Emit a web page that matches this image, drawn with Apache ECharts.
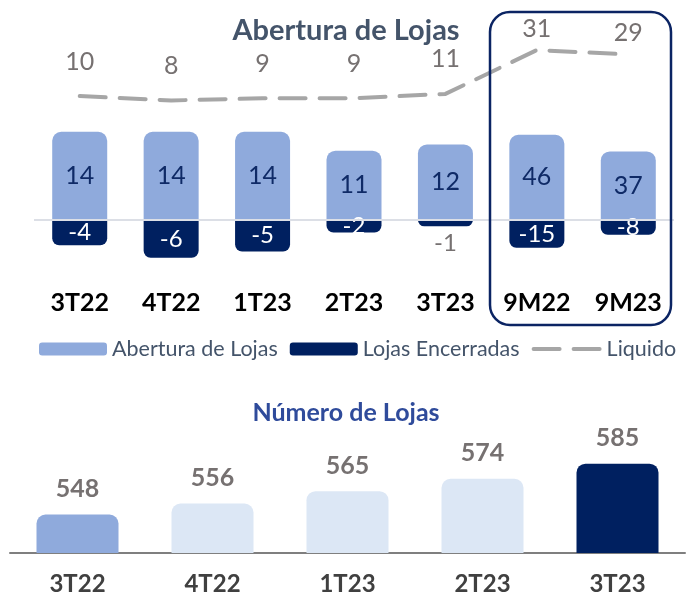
<!DOCTYPE html>
<html>
<head>
<meta charset="utf-8">
<script src="https://cdn.jsdelivr.net/npm/echarts@6/dist/echarts.min.js"></script>
<style>
  html, body { margin: 0; padding: 0; background: #fff; }
  #chart { width: 692px; height: 602px; }
</style>
</head>
<body>
<div id="chart"></div>
<script>
// Abertura de Lojas (top chart)
const periods = ['3T22', '4T22', '1T23', '2T23', '3T23', '9M22', '9M23']
const aberturaTri = [14, 14, 14, 11, 12]
const encerradasTri = [-4, -6, -5, -2, -1]
const abertura9M = [46, 37]
const encerradas9M = [-15, -8]
const liquido = [10, 8, 9, 9, 11, 31, 29]

// Número de Lojas (bottom chart)
const lojasCats = ['3T22', '4T22', '1T23', '2T23', '3T23']
const numeroLojas = [548, 556, 565, 574, 585]

const FONT = 'Lato, "Liberation Sans", sans-serif'
const COLORS = {
  open: '#8faadc',
  closed: '#002060',
  line: '#a6a6a6',
  label: '#767171',
  light: '#dce7f5'
}
const lojasColors = [COLORS.open, COLORS.light, COLORS.light, COLORS.light, COLORS.closed]

const empty = n => new Array(n).fill('-')
const nTri = aberturaTri.length
const n9M = abertura9M.length

// tiny closures get their label below the bar, in grey
const negLabel = v => Math.abs(v) < 2
  ? { value: v, label: { position: 'bottom', color: COLORS.label } }
  : v

const chart = echarts.init(document.getElementById('chart'))

const option = {
  animation: false,
  textStyle: { fontFamily: FONT },
  title: [
    {
      text: 'Abertura de Lojas',
      left: 'center',
      top: 11,
      textStyle: { fontSize: 29, fontWeight: 'bold', color: '#44546a', fontFamily: FONT }
    },
    {
      text: 'Número de Lojas',
      left: 'center',
      top: 395,
      textStyle: { fontSize: 25, fontWeight: 'bold', color: '#2f4b9b', fontFamily: FONT }
    }
  ],
  legend: {
    left: 34,
    right: 0,
    top: 333,
    itemWidth: 68,
    itemHeight: 13,
    itemGap: 12,
    textStyle: { fontSize: 21.5, color: '#44546a', fontFamily: FONT },
    data: [
      { name: 'Abertura de Lojas', icon: 'roundRect' },
      { name: 'Lojas Encerradas', icon: 'roundRect' },
      { name: 'Liquido', lineStyle: { width: 4, type: [26, 14], cap: 'round' } }
    ]
  },
  grid: [
    { left: 34, right: 18, top: 94, height: 189 },
    { left: 34, right: 18, top: 40, height: 78 },
    { left: 10, right: 7, top: 443, height: 110 }
  ],
  xAxis: [
    {
      type: 'category',
      gridIndex: 0,
      data: periods,
      axisLine: { show: false },
      axisTick: { show: false },
      axisLabel: { fontSize: 25, fontWeight: 'bold', color: '#000', margin: 7 }
    },
    { type: 'category', gridIndex: 1, data: periods, show: false },
    {
      type: 'category',
      gridIndex: 2,
      data: lojasCats,
      axisLine: { lineStyle: { color: '#7f7f7f', width: 2 } },
      axisTick: { show: false },
      axisLabel: { fontSize: 24, fontWeight: 'bold', color: '#404040', margin: 19 }
    }
  ],
  yAxis: [
    { type: 'value', gridIndex: 0, min: -10, max: 20, show: false },
    { type: 'value', gridIndex: 0, min: -34, max: 68, show: false },
    { type: 'value', gridIndex: 1, min: 0, max: 35.6, show: false },
    { type: 'value', gridIndex: 2, min: 520, max: 600, show: false }
  ],
  graphic: [
    {
      type: 'rect',
      shape: { x: 490, y: 12, width: 181, height: 313, r: 20 },
      style: { fill: 'none', stroke: '#0b2463', lineWidth: 2.5 },
      z: 10
    }
  ],
  series: [
    {
      name: 'Abertura de Lojas',
      type: 'bar',
      xAxisIndex: 0,
      yAxisIndex: 0,
      barWidth: 55,
      barGap: '-100%',
      data: aberturaTri.concat(empty(n9M)),
      itemStyle: { color: COLORS.open, borderRadius: [9, 9, 0, 0] },
      label: { show: true, position: 'inside', fontSize: 25, color: '#0f2a66' },
      markLine: {
        silent: true,
        symbol: 'none',
        label: { show: false },
        lineStyle: { color: '#dcdfe6', width: 2, type: 'solid' },
        data: [{ yAxis: 0 }]
      }
    },
    {
      name: 'Lojas Encerradas',
      type: 'bar',
      xAxisIndex: 0,
      yAxisIndex: 0,
      barWidth: 55,
      barGap: '-100%',
      data: encerradasTri.map(negLabel).concat(empty(n9M)),
      itemStyle: { color: COLORS.closed, borderRadius: [0, 0, 7, 7] },
      label: { show: true, position: 'inside', fontSize: 24, color: '#fff' }
    },
    {
      name: 'Abertura de Lojas',
      type: 'bar',
      xAxisIndex: 0,
      yAxisIndex: 1,
      barWidth: 55,
      barGap: '-100%',
      data: empty(nTri).concat(abertura9M),
      itemStyle: { color: COLORS.open, borderRadius: [9, 9, 0, 0] },
      label: { show: true, position: 'inside', fontSize: 25, color: '#0f2a66' }
    },
    {
      name: 'Lojas Encerradas',
      type: 'bar',
      xAxisIndex: 0,
      yAxisIndex: 1,
      barWidth: 55,
      barGap: '-100%',
      data: empty(nTri).concat(encerradas9M),
      itemStyle: { color: COLORS.closed, borderRadius: [0, 0, 7, 7] },
      label: { show: true, position: 'inside', fontSize: 24, color: '#fff' }
    },
    {
      name: 'Liquido',
      type: 'line',
      xAxisIndex: 1,
      yAxisIndex: 2,
      clip: false,
      symbol: 'circle',
      symbolSize: 2,
      data: liquido.map((v, i) => i >= nTri ? { value: v, label: { distance: 8 } } : v),
      lineStyle: { color: COLORS.line, width: 4, type: [26, 14], cap: 'round' },
      itemStyle: { color: 'rgba(0,0,0,0)' },
      label: { show: true, position: 'top', distance: 21, fontSize: 25, color: COLORS.label }
    },
    {
      name: 'Número de Lojas',
      type: 'bar',
      xAxisIndex: 2,
      yAxisIndex: 3,
      barWidth: 82,
      data: numeroLojas,
      itemStyle: {
        color: p => lojasColors[p.dataIndex],
        borderRadius: [9, 9, 0, 0]
      },
      label: {
        show: true,
        position: 'top',
        distance: 13,
        fontSize: 25,
        fontWeight: 'bold',
        color: COLORS.label
      }
    }
  ]
}

chart.setOption(option)
</script>
</body>
</html>
